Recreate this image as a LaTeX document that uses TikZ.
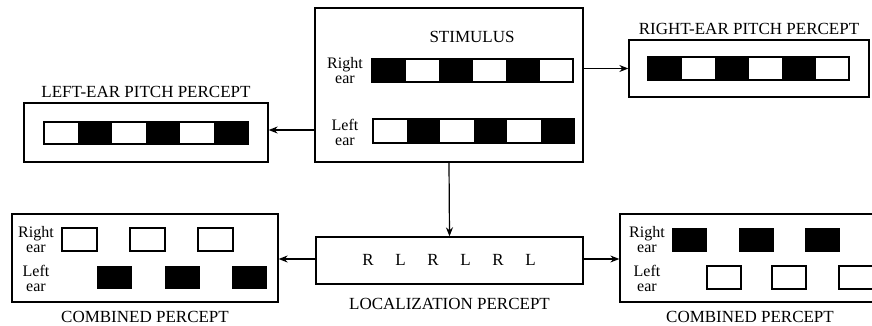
\documentclass[tikz,border=0pt]{standalone}
\usepackage{fontspec}
\setmainfont{Liberation Serif}
\usetikzlibrary{arrows.meta}
\tikzset{>={Stealth[length=9pt,width=7pt]}}
\tikzset{
  box/.style={draw, line width=1.3pt, inner sep=0pt},
  title/.style={font=\fontsize{17}{18}\selectfont, inner sep=2pt},
  earlbl/.style={align=center, inner sep=0pt, font=\fontsize{16}{15}\selectfont},
  cell/.style={line width=1.2pt},
  link/.style={->, line width=1.2pt},
}

\begin{document}
\begin{tikzpicture}[x=1pt,y=-1pt]
		\clip (0,0) rectangle (872,325);
		% boxes
		\node[box, minimum width=268pt, minimum height=154pt] (stim) at (449,85) {};
		\node[box, minimum width=240pt, minimum height=57pt] (rpitch) at (749,68.5) {};
		\node[box, minimum width=244pt, minimum height=59pt] (lpitch) at (146,132.5) {};
		\node[box, minimum width=267pt, minimum height=47pt] (loc) at (449.5,260.5) {};
		\node[box, minimum width=266pt, minimum height=88pt] (lcomb) at (145,258) {};
		\node[box, minimum width=260pt, minimum height=88pt] (rcomb) at (750,258) {};
		% titles
		\node[title] (stimtxt) at (472,37) {STIMULUS};
		\node[title, above=2pt] (rpitchtxt) at (rpitch.north) {RIGHT-EAR PITCH PERCEPT};
		\node[title, above=2pt] (lpitchtxt) at (lpitch.north) {LEFT-EAR PITCH PERCEPT};
		\node[title, below=11pt] (loctxt) at (loc.south) {LOCALIZATION PERCEPT};
		\node[title, below=6pt] (lcombtxt) at (lcomb.south) {COMBINED PERCEPT};
		\node[title, below=6pt] (rcombtxt) at (rcomb.south) {COMBINED PERCEPT};
		% ear labels
		\node[earlbl] (sright) at (345,71) {Right\\ear};
		\node[earlbl] (sleft) at (345,132) {Left\\ear};
		\node[earlbl] (lcright) at (36,240) {Right\\ear};
		\node[earlbl] (lcleft) at (36,278) {Left\\ear};
		\node[earlbl] (rcright) at (647,240) {Right\\ear};
		\node[earlbl] (rcleft) at (647,278) {Left\\ear};
		% stimulus bars
		\foreach \i in {0,2,4}
		\fill (372+33.5*\i,59) rectangle ++(33.5,23);
		\draw[cell] (372,59) rectangle (573,82);
		\foreach \i in {1,3,5}
		\fill (373+33.5*\i,119) rectangle ++(33.5,24);
		\draw[cell] (373,119) rectangle (574,143);
		% pitch bars
		\foreach \i in {0,2,4}
		\fill (648+33.5*\i,57) rectangle ++(33.5,23);
		\draw[cell] (648,57) rectangle (849,80);
		\foreach \i in {1,3,5}
		\fill (44+34*\i,122) rectangle ++(34,22);
		\draw[cell] (44,122) rectangle (248,144);
		% localization letters
		\foreach \l [count=\i from 0] in {R,L,R,L,R,L}
		\node[title] at (368+32.5*\i,260) {\l};
		% combined percepts
		\foreach \x in {62,130,198}
		\draw[cell] (\x,228) rectangle ++(35,23);
		\foreach \x in {97,165,232}
		\fill (\x,266) rectangle ++(35,23);
		\foreach \x in {672,739,805}
		\fill (\x,228) rectangle ++(35,24);
		\foreach \x in {707,772,839}
		\draw[cell] (\x,266) rectangle ++(34,23);
		% arrows
		\draw[link] (stim.east |- rpitch.west) -- (rpitch.west);
		\draw[link] (stim.west |- 0,130) -- (lpitch.east |- 0,130);
		\draw[link] (stim.south) -- (loc.north);
		\draw[link] (loc.west |- 0,259) -- (lcomb.east |- 0,259);
		\draw[link] (loc.east |- 0,259) -- (rcomb.west |- 0,259);
	\end{tikzpicture}
\end{document}
